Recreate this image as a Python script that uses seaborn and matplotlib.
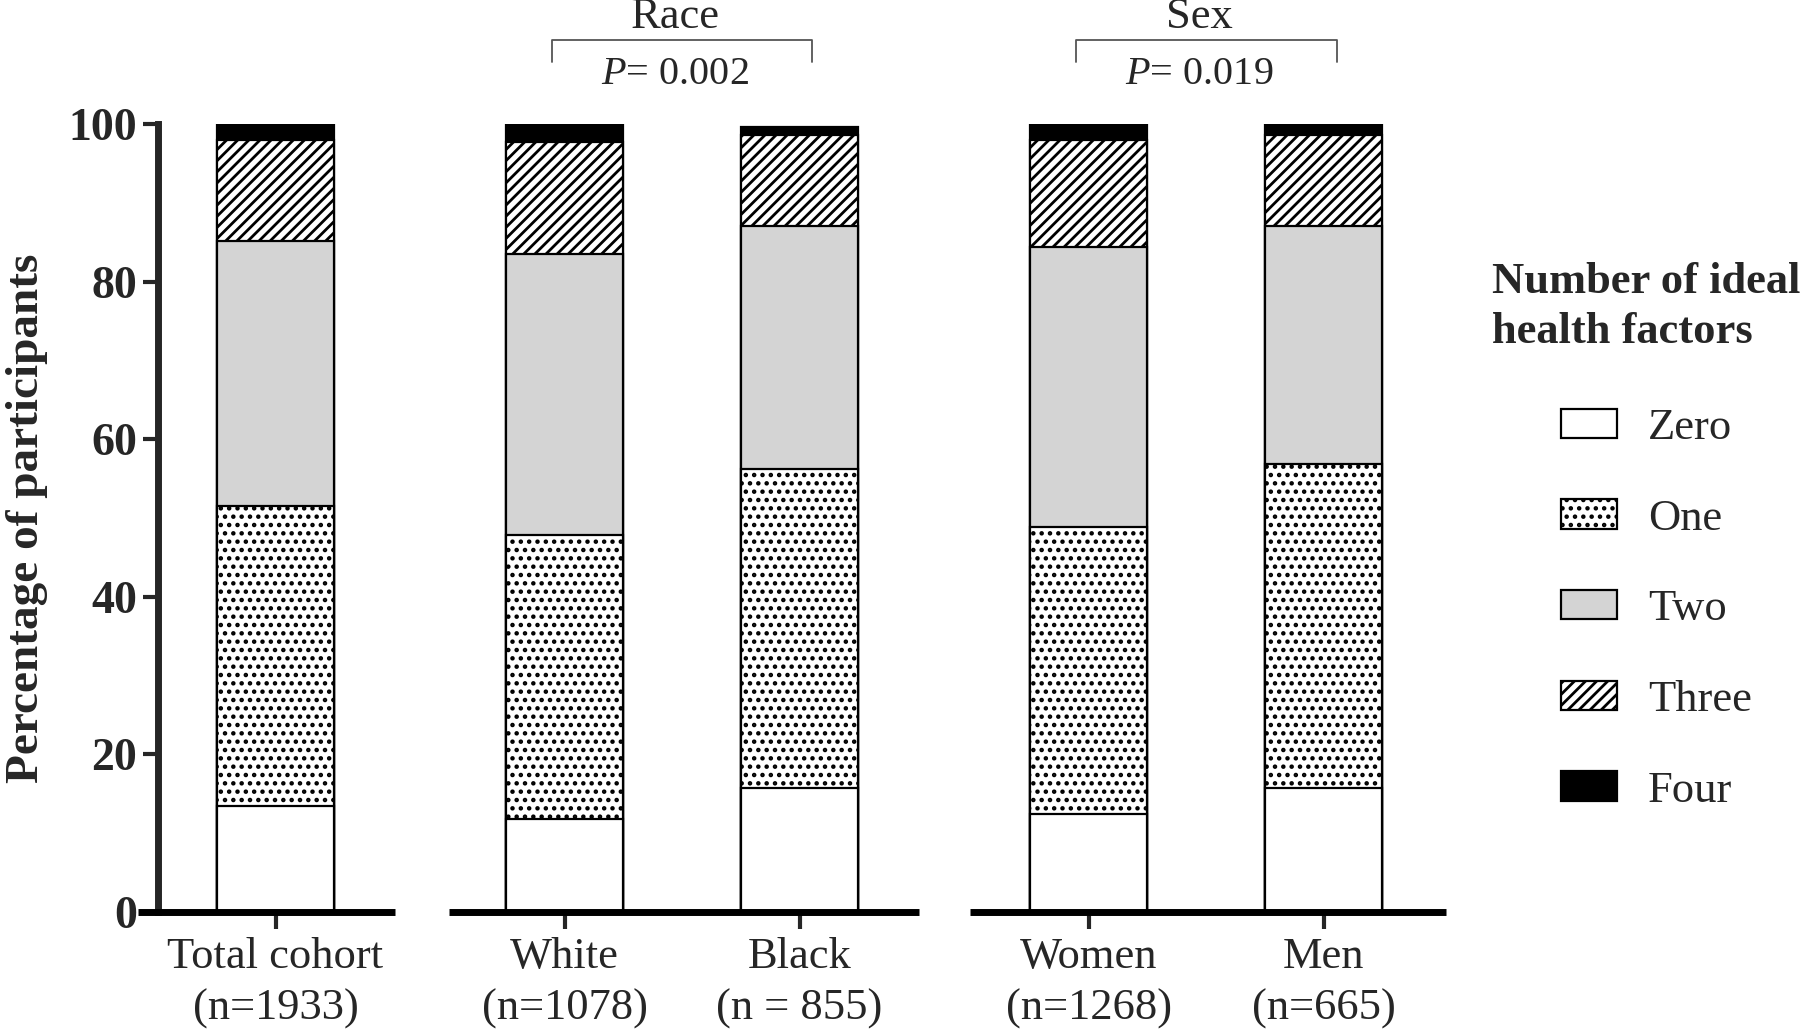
import numpy as np
import matplotlib
matplotlib.use("Agg")
import matplotlib.pyplot as plt
import matplotlib.patches as mpatches
import seaborn as sns

# data (percent of participants)
categories = ["Total cohort\n(n=1933)", "White\n(n=1078)", "Black\n(n = 855)",
              "Women\n(n=1268)", "Men\n(n=665)"]
groups = [0, 1, 1, 2, 2]
levels = ["Zero", "One", "Two", "Three", "Four"]
zero = [13.5, 11.8, 15.8, 12.5, 15.8]
one = [38.1, 36.1, 40.4, 36.4, 41.1]
two = [33.6, 35.6, 30.9, 35.5, 30.2]
three = [12.8, 14.2, 11.6, 13.6, 11.6]
four = [2.0, 2.3, 0.9, 2.0, 1.3]

brackets = [("Race", "$P$= 0.002", 1, 2), ("Sex", "$P$= 0.019", 3, 4)]

# styles
fills = ["white", "white", "#d4d4d4", "white", "black"]
hatches = [None, "..", None, "///", None]

sns.set_style("white")
plt.rcParams["font.family"] = ["Liberation Serif", "DejaVu Serif"]
plt.rcParams["mathtext.fontset"] = "custom"
plt.rcParams["mathtext.rm"] = "Liberation Serif"
plt.rcParams["mathtext.it"] = "Liberation Serif:italic"
plt.rcParams["hatch.linewidth"] = 2.0
plt.rcParams["hatch.color"] = "black"

FS = 32
gap = 0.23
pos = np.array([i + gap * g for i, g in enumerate(groups)])

fig = plt.figure(figsize=(18, 10.29), dpi=100)
ax = fig.add_axes([0.08778, 0.1137, 0.71806, 0.7655])

stack = np.cumsum(np.array([zero, one, two, three, four]), axis=0)
# draw tallest cumulative first, smaller ones on top
for k in range(len(levels) - 1, -1, -1):
    sns.barplot(x=pos, y=stack[k], native_scale=True, width=0.5,
                color=fills[k], saturation=1, edgecolor="black",
                linewidth=1.6, hatch=hatches[k], errorbar=None, ax=ax)

ax.set_xlim(-0.5, 5.0)
ax.set_ylim(0, 100)
ax.set_yticks([0, 20, 40, 60, 80, 100])
ax.set_xticks(pos, categories)
for lab in ax.get_yticklabels():
    lab.set_fontweight("bold")
for lab in ax.get_xticklabels():
    lab.set_linespacing(1.36)
ax.tick_params(axis="y", direction="out", length=11, width=3, pad=4,
               labelsize=33, left=True)
ax.tick_params(axis="x", direction="out", length=12, width=3, pad=6,
               labelsize=FS, bottom=True)
for s in ["top", "right", "bottom"]:
    ax.spines[s].set_visible(False)
ax.spines["left"].set_linewidth(5)
ax.spines["left"].set_bounds(0, 100)
ax.set_ylabel("Percentage of participants", fontsize=34, fontweight="bold",
              labelpad=15)
ax.set_xlabel("")

# broken x axis
segs = [(-0.585, pos[0] + 0.508), (pos[1] - 0.49, pos[2] + 0.51),
        (pos[3] - 0.505, pos[4] + 0.52)]
for a, b in segs:
    ax.plot([a, b], [0, 0], color="black", lw=5, clip_on=False,
            solid_capstyle="butt", zorder=5)

# brackets with P values
for title, ptxt, i, j in brackets:
    x0, x1 = pos[i] - 0.055, pos[j] + 0.055
    ax.plot([x0, x0, x1, x1], [107.9, 110.7, 110.7, 107.9], color="#555555",
            lw=1.3, clip_on=False)
    xm = (x0 + x1) / 2 - 0.03
    ax.text(xm, 112.2, title, ha="center", va="baseline", fontsize=FS,
            clip_on=False)
    ax.text(xm, 105.1, ptxt, ha="center", va="baseline", fontsize=29,
            clip_on=False)

# legend
fig.text(1492 / 1800, 1 - 307 / 1029, "Number of ideal\nhealth factors",
         ha="left", va="center", fontsize=FS, fontweight="bold",
         linespacing=1.3)
handles = [mpatches.Patch(facecolor=fills[k], hatch=hatches[k],
                          edgecolor="black", linewidth=1.6, label=levels[k])
           for k in range(len(levels))]
fig.legend(handles=handles, loc="upper left",
           bbox_to_anchor=(1561 / 1800, 1 - 408 / 1029),
           bbox_transform=fig.transFigure, frameon=False, fontsize=FS,
           handlelength=1.26, handleheight=0.63, handletextpad=0.7,
           labelspacing=1.14, borderpad=0, borderaxespad=0)

fig.savefig("out.png", dpi=100)
